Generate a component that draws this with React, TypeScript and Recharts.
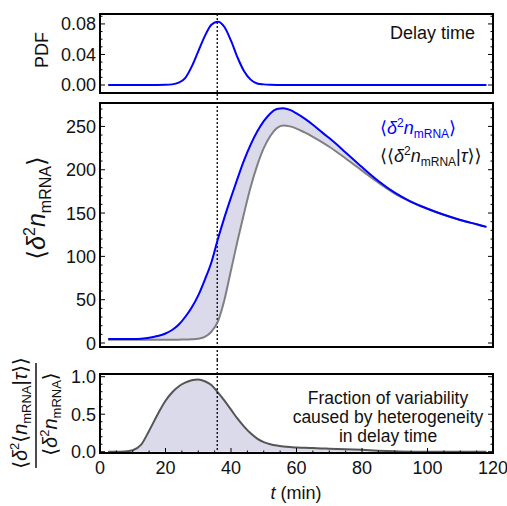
import { ComposedChart, Line, Area, XAxis, YAxis, ReferenceLine } from "recharts";

// time grid (min) and the curves
const times = [2.5, 5, 7.5, 10, 12.5, 15, 17.5, 20, 22, 24, 26, 28, 30, 32, 34, 36, 38, 40, 42, 44, 46, 48, 50, 52, 54, 56, 58, 60, 62.5, 65, 67.5, 70, 75, 80, 85, 90, 95, 100, 105, 110, 115, 118];
const delayPdf = [0, 0, 0, 0, 0, 0, 0, 0.0002, 0.0008, 0.003, 0.009, 0.024, 0.044, 0.064, 0.079, 0.083, 0.076, 0.058, 0.036, 0.018, 0.007, 0.002, 0.0008, 0.0002, 0, 0, 0, 0, 0, 0, 0, 0, 0, 0, 0, 0, 0, 0, 0, 0, 0, 0];
const varTotal = [4.5, 4.5, 4.5, 4.6, 5, 6, 8, 11, 15, 21, 30, 41, 55, 73, 93, 120, 145, 168, 190, 211, 229, 244, 256, 265, 270, 271, 269, 265, 259, 252, 244, 236.5, 220, 203, 187, 173.5, 163, 155, 148, 142, 137, 134];
const varGivenDelay = [3.8, 3.8, 3.8, 3.8, 3.8, 3.8, 3.8, 3.8, 3.8, 3.9, 4, 4.3, 5, 7, 13, 25, 50, 84, 118, 150, 180, 205, 225, 239, 248, 251, 250, 247.5, 243, 238, 232.5, 226.5, 213, 199, 185, 172.5, 163, 155, 148, 142, 137, 134];
const heteroFraction = [0, 0, 0.003, 0.02, 0.09, 0.28, 0.49, 0.68, 0.79, 0.87, 0.92, 0.952, 0.962, 0.94, 0.89, 0.79, 0.68, 0.56, 0.44, 0.335, 0.245, 0.175, 0.128, 0.1, 0.082, 0.07, 0.062, 0.057, 0.052, 0.048, 0.044, 0.041, 0.034, 0.025, 0.014, 0.006, 0.001, 0, 0, 0, 0, 0];
const delayMarker = 35.8;

const xMajors = [0, 20, 40, 60, 80, 100, 120];
const pdfMajors = [0, 0.04, 0.08];
const varMajors = [0, 50, 100, 150, 200, 250];
const fracMajors = [0, 0.5, 1];

const rows = times.map((t, i) => ({
  t,
  pdf: delayPdf[i],
  total: varTotal[i],
  given: varGivenDelay[i],
  band: [varGivenDelay[i], varTotal[i]],
  frac: heteroFraction[i],
}));

const steps = (lo: number, hi: number, step: number) => {
  const out: number[] = [];
  for (let v = lo; v <= hi + 1e-9; v += step) out.push(+v.toFixed(4));
  return out;
};
const xAll = steps(0, 120, 5);
const pdfAll = steps(0, 0.09, 0.01);
const varAll = steps(0, 270, 10);
const fracAll = steps(0, 1, 0.1);

const FONT = '"Liberation Sans", Arial, Helvetica, "DejaVu Sans", sans-serif';
const frameLine = { stroke: "#000", strokeWidth: 2, strokeLinecap: "square" as const };
const FILL = "#dadaeb";
// plot box is x 100..493 in every panel; axes are 1px wide so they get drawn
const M = { left: 99, right: 13 };

type TickOpts = { side: "left" | "right" | "bottom"; majors: number[]; digits?: number; gap: number; labels: boolean };
const isIn = (v: number, list: number[]) => list.some((m) => Math.abs(m - v) < 1e-6);

function frameTick(o: TickOpts) {
  return (p: any) => {
    const v = p.payload.value as number;
    const major = isIn(v, o.majors);
    const len = major ? 5 : 2.5;
    const label = major && o.labels ? v.toFixed(o.digits ?? 0) : null;
    const txt = { fontFamily: FONT, fontSize: 18, fill: "#111" };
    if (o.side === "left") {
      const ax = p.x + o.gap;
      return (
        <g>
          <line x1={ax} x2={ax + len} y1={p.y} y2={p.y} stroke="#000" />
          {label && <text x={p.x} y={p.y + 6.5} textAnchor="end" {...txt}>{label}</text>}
        </g>
      );
    }
    if (o.side === "right") {
      const ax = p.x - o.gap;
      return <line x1={ax - len} x2={ax} y1={p.y} y2={p.y} stroke="#000" />;
    }
    const ay = p.y - o.gap;
    return (
      <g>
        <line x1={p.x} x2={p.x} y1={ay - len} y2={ay} stroke="#000" />
        {label && <text x={p.x} y={ay + 20.5} textAnchor="middle" {...txt}>{label}</text>}
      </g>
    );
  };
}

// dotted delay marker, stretched past the plot so it runs through the gaps
const dotted = (up: number, down: number) => (p: any) => (
  <line
    x1={p.x1}
    x2={p.x2}
    y1={Math.min(p.y1, p.y2) - up}
    y2={Math.max(p.y1, p.y2) + down}
    stroke="#000"
    strokeWidth={1.3}
    strokeDasharray="2 2"
  />
);

const abs = (top: number): React.CSSProperties => ({ position: "absolute", left: 0, top });

function frameAxes(domain: number[], all: number[], majors: number[], digits: number, bottomTicks: boolean) {
  return [
    bottomTicks ? (
      <XAxis key="xb" dataKey="t" type="number" domain={[0, 120]} allowDataOverflow height={1} ticks={xAll} interval={0} tickSize={0} tickMargin={0} tickLine={false} tick={frameTick({ side: "bottom", majors: xMajors, gap: 0, labels: true })} axisLine={frameLine} />
    ) : (
      <XAxis key="xb" dataKey="t" type="number" domain={[0, 120]} allowDataOverflow height={1} tick={false} tickLine={false} axisLine={frameLine} />
    ),
    <XAxis key="xt" xAxisId="top" orientation="top" dataKey="t" type="number" domain={[0, 120]} allowDataOverflow height={1} tick={false} tickLine={false} axisLine={frameLine} />,
    <YAxis key="yl" type="number" domain={domain} allowDataOverflow width={1} ticks={all} interval={0} tickSize={0} tickMargin={4} tickLine={false} tick={frameTick({ side: "left", majors, digits, gap: 4, labels: true })} axisLine={frameLine} />,
    <YAxis key="yr" yAxisId="r" orientation="right" type="number" domain={domain} allowDataOverflow width={1} ticks={all} interval={0} tickSize={0} tickMargin={0} tickLine={false} tick={frameTick({ side: "right", majors, gap: 0, labels: false })} axisLine={frameLine} />,
  ];
}

export default function App() {
  return (
    <div style={{ position: "absolute", left: 0, top: 0, width: 507, height: 506, background: "#fff" }}>
      <div style={abs(0)}>
        <ComposedChart width={507} height={100} data={rows} margin={{ top: 13, right: M.right, bottom: 6, left: M.left }}>
          {frameAxes([-0.0105, 0.093], pdfAll, pdfMajors, 2, false)}
          <ReferenceLine x={delayMarker} shape={dotted(0, 5)} />
          <Line dataKey="pdf" type="monotone" stroke="#0000ff" strokeWidth={2} dot={false} isAnimationActive={false} />
        </ComposedChart>
      </div>

      <div style={abs(96)}>
        <ComposedChart width={507} height={264} data={rows} margin={{ top: 6, right: M.right, bottom: 12, left: M.left }}>
          {frameAxes([-4.6, 277], varAll, varMajors, 0, false)}
          <Area dataKey="band" type="monotone" stroke="none" fill={FILL} fillOpacity={1} isAnimationActive={false} />
          <ReferenceLine x={delayMarker} shape={dotted(5, 13)} />
          <Line dataKey="given" type="monotone" stroke="#808080" strokeWidth={2} dot={false} isAnimationActive={false} />
          <Line dataKey="total" type="monotone" stroke="#0000ff" strokeWidth={2} dot={false} isAnimationActive={false} />
        </ComposedChart>
      </div>

      <div style={abs(355)}>
        <ComposedChart width={507} height={151} data={rows} margin={{ top: 18, right: M.right, bottom: 52, left: M.left }}>
          {frameAxes([-0.017, 1.036], fracAll, fracMajors, 1, true)}
          <Area dataKey="frac" type="monotone" baseValue={0} stroke="#555" strokeWidth={2} fill={FILL} fillOpacity={1} isAnimationActive={false} />
          <ReferenceLine x={delayMarker} shape={dotted(14, 0)} />
        </ComposedChart>
      </div>

      <svg width={507} height={506} style={{ position: "absolute", left: 0, top: 0, pointerEvents: "none" }} fontFamily={FONT}>
        <text transform="translate(48,50) rotate(-90)" textAnchor="middle" fontSize={18} fill="#111">PDF</text>
        <text x={475} y={39} textAnchor="end" fontSize={18} fill="#111">Delay time</text>

        <text transform="translate(45,208) rotate(-90)" textAnchor="middle" fontSize={25} fill="#111">
          ⟨<tspan fontStyle="italic">δ</tspan>
          <tspan dy={-10} fontSize={16}>2</tspan>
          <tspan dy={10} fontStyle="italic">n</tspan>
          <tspan dy={6} fontSize={16}>mRNA</tspan>
          <tspan dy={-6}>⟩</tspan>
        </text>

        <text x={380} y={134} fontSize={18} fill="#0000ff">
          ⟨<tspan fontStyle="italic">δ</tspan>
          <tspan dy={-7} fontSize={12}>2</tspan>
          <tspan dy={7} fontStyle="italic">n</tspan>
          <tspan dy={4} fontSize={12}>mRNA</tspan>
          <tspan dy={-4}>⟩</tspan>
        </text>
        <text x={380} y={162} fontSize={18} fill="#111">
          ⟨⟨<tspan fontStyle="italic">δ</tspan>
          <tspan dy={-7} fontSize={12}>2</tspan>
          <tspan dy={7} fontStyle="italic">n</tspan>
          <tspan dy={4} fontSize={12}>mRNA</tspan>
          <tspan dy={-4}>|</tspan>
          <tspan fontStyle="italic">τ</tspan>⟩⟩
        </text>

        <text transform="translate(27,413) rotate(-90)" textAnchor="middle" fontSize={20} fill="#111">
          ⟨<tspan fontStyle="italic">δ</tspan>
          <tspan dy={-8} fontSize={13}>2</tspan>
          <tspan dy={8}>⟨</tspan>
          <tspan fontStyle="italic">n</tspan>
          <tspan dy={4} fontSize={13}>mRNA</tspan>
          <tspan dy={-4}>|</tspan>
          <tspan fontStyle="italic">τ</tspan>⟩⟩
        </text>
        <line x1={36} x2={36} y1={363} y2={468} stroke="#111" strokeWidth={1.5} />
        <text transform="translate(57,414) rotate(-90)" textAnchor="middle" fontSize={20} fill="#111">
          ⟨<tspan fontStyle="italic">δ</tspan>
          <tspan dy={-8} fontSize={13}>2</tspan>
          <tspan dy={8} fontStyle="italic">n</tspan>
          <tspan dy={4} fontSize={13}>mRNA</tspan>
          <tspan dy={-4}>⟩</tspan>
        </text>

        <text textAnchor="middle" fontSize={17.5} fill="#111">
          <tspan x={388} y={404}>Fraction of variability</tspan>
          <tspan x={388} y={423}>caused by heterogeneity</tspan>
          <tspan x={388} y={442}>in delay time</tspan>
        </text>

        <text x={296} y={499} textAnchor="middle" fontSize={18} fill="#111">
          <tspan fontStyle="italic">t</tspan> (min)
        </text>
      </svg>
    </div>
  );
}
